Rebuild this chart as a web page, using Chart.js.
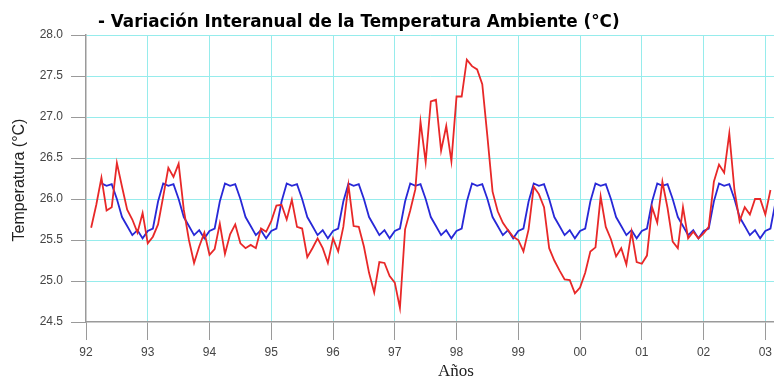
<!DOCTYPE html>
<html>
<head>
<meta charset="utf-8">
<script src="https://cdn.jsdelivr.net/npm/chart.js@4/dist/chart.umd.min.js"></script>
<style>
  html, body { margin: 0; padding: 0; background: #fff; }
</style>
</head>
<body>
<canvas id="chart" width="777" height="380"></canvas>
<script>
// Texts
const TITLE = "- Variación Interanual de la Temperatura Ambiente (°C)";
const Y_TITLE = "Temperatura (°C)";
const X_TITLE = "Años";

// x axis: years 1992..2003, monthly points
const firstYear = 1992;
const tickLabels = ["92", "93", "94", "95", "96", "97", "98", "99", "00", "01", "02", "03"];

// monthly temperature (red), month 1 = Jan 1992
const monthlyTemp = [
    25.65, 25.93, 26.26, 25.86, 25.90, 26.44, 26.15, 25.87, 25.75, 25.59, 25.83, 25.46,
    25.54, 25.69, 26.03, 26.38, 26.27, 26.43, 25.87, 25.50, 25.22, 25.42, 25.59, 25.32,
    25.39, 25.70, 25.33, 25.57, 25.69, 25.46, 25.40, 25.44, 25.40, 25.64, 25.60, 25.73,
    25.92, 25.93, 25.75, 25.99, 25.66, 25.64, 25.29, 25.40, 25.52, 25.40, 25.22, 25.52,
    25.36, 25.66, 26.17, 25.67, 25.66, 25.42, 25.10, 24.86, 25.23, 25.22, 25.06, 24.98,
    24.67, 25.63, 25.86, 26.12, 26.94, 26.45, 27.19, 27.21, 26.59, 26.89, 26.46, 27.25,
    27.25, 27.70, 27.62, 27.58, 27.40, 26.76, 26.09, 25.85, 25.71, 25.62, 25.54, 25.50,
    25.36, 25.63, 26.15, 26.06, 25.90, 25.40, 25.25, 25.13, 25.02, 25.01, 24.85, 24.92,
    25.10, 25.36, 25.41, 26.03, 25.66, 25.51, 25.30, 25.40, 25.20, 25.60, 25.23, 25.21,
    25.31, 25.90, 25.71, 26.21, 25.89, 25.48, 25.40, 25.90, 25.52, 25.60, 25.52, 25.58,
    25.66, 26.21, 26.42, 26.32, 26.80, 26.11, 25.73, 25.90, 25.81, 26.00, 26.00, 25.81,
    26.11
];

// average yearly cycle (blue), same months
const meanTemp = [
    null,  null,  26.19, 26.16, 26.18, 26.00, 25.78, 25.67, 25.56, 25.62, 25.52, 25.61,
    25.64, 25.97, 26.19, 26.16, 26.18, 26.00, 25.78, 25.67, 25.56, 25.62, 25.52, 25.61,
    25.64, 25.97, 26.19, 26.16, 26.18, 26.00, 25.78, 25.67, 25.56, 25.62, 25.52, 25.61,
    25.64, 25.97, 26.19, 26.16, 26.18, 26.00, 25.78, 25.67, 25.56, 25.62, 25.52, 25.61,
    25.64, 25.97, 26.19, 26.16, 26.18, 26.00, 25.78, 25.67, 25.56, 25.62, 25.52, 25.61,
    25.64, 25.97, 26.19, 26.16, 26.18, 26.00, 25.78, 25.67, 25.56, 25.62, 25.52, 25.61,
    25.64, 25.97, 26.19, 26.16, 26.18, 26.00, 25.78, 25.67, 25.56, 25.62, 25.52, 25.61,
    25.64, 25.97, 26.19, 26.16, 26.18, 26.00, 25.78, 25.67, 25.56, 25.62, 25.52, 25.61,
    25.64, 25.97, 26.19, 26.16, 26.18, 26.00, 25.78, 25.67, 25.56, 25.62, 25.52, 25.61,
    25.64, 25.97, 26.19, 26.16, 26.18, 26.00, 25.78, 25.67, 25.56, 25.62, 25.52, 25.61,
    25.64, 25.97, 26.19, 26.16, 26.18, 26.00, 25.78, 25.67, 25.56, 25.62, 25.52, 25.61,
    25.64, 25.97
];

// build {x, y} points, x in decimal years
function toPoints(values) {
    return values.map((v, i) => ({ x: firstYear + (i + 1) / 12, y: v }));
}

// Draw title and axis titles at fixed spots
const textPlugin = {
    id: "textos",
    afterDraw(chart) {
        const ctx = chart.ctx;
        ctx.save();

        // main title, fitted to the width in the picture
        ctx.fillStyle = "#000";
        ctx.textAlign = "left";
        ctx.textBaseline = "alphabetic";
        ctx.font = 'bold 16px "DejaVu Sans"';
        const w = ctx.measureText(TITLE).width;
        const size = 16 * 522 / w;
        ctx.font = `bold ${size.toFixed(2)}px "DejaVu Sans"`;
        ctx.fillText(TITLE, 98, 27);

        // x title
        ctx.fillStyle = "#222";
        ctx.textAlign = "center";
        ctx.font = '17px "Liberation Serif"';
        ctx.fillText(X_TITLE, 456, 376);

        // y title
        ctx.translate(20, 180);
        ctx.rotate(-Math.PI / 2);
        ctx.textBaseline = "middle";
        ctx.font = '16px "Liberation Sans"';
        ctx.fillText(Y_TITLE, 0, 0);

        ctx.restore();
    }
};

const gridColor = "rgb(150, 236, 236)";
const axisColor = "#9a9a9a";

const chartConfig = {
    type: "line",
    data: {
        datasets: [
            {
                label: "Temperatura mensual",
                data: toPoints(monthlyTemp),
                borderColor: "rgb(232, 40, 40)",
                borderWidth: 1.8,
                pointRadius: 0,
                tension: 0,
                spanGaps: false
            },
            {
                label: "Promedio",
                data: toPoints(meanTemp),
                borderColor: "rgb(40, 40, 215)",
                borderWidth: 1.8,
                pointRadius: 0,
                tension: 0,
                spanGaps: false
            }
        ]
    },
    options: {
        responsive: false,
        animation: false,
        layout: {
            padding: { top: 35, left: 0, right: 0, bottom: 0 }
        },
        plugins: {
            legend: { display: false },
            title: { display: false },
            tooltip: { enabled: false }
        },
        scales: {
            x: {
                type: "linear",
                min: 1992,
                max: 2003.14,
                afterFit: (scale) => { scale.height = 58; },
                grid: {
                    // no cyan line on top of the left axis
                    color: (c) => (c.tick && c.tick.value === firstYear ? "rgba(0,0,0,0)" : gridColor),
                    tickColor: axisColor,
                    tickLength: 18,
                    lineWidth: 1
                },
                border: { color: axisColor, width: 1.5 },
                ticks: {
                    stepSize: 1,
                    includeBounds: false,
                    autoSkip: false,
                    maxRotation: 0,
                    padding: 5,
                    color: "#444",
                    font: { family: "Liberation Sans", size: 12 },
                    callback: (value) => tickLabels[Math.round(value) - firstYear]
                }
            },
            y: {
                min: 24.5,
                max: 28,
                afterFit: (scale) => { scale.width = 86; },
                grid: {
                    color: (c) => (c.tick && c.tick.value === 24.5 ? "rgba(0,0,0,0)" : gridColor),
                    tickColor: axisColor,
                    tickLength: 15,
                    lineWidth: 1
                },
                border: { color: axisColor, width: 1.5 },
                ticks: {
                    stepSize: 0.5,
                    padding: 8,
                    color: "#444",
                    font: { family: "Liberation Sans", size: 12 },
                    callback: (value) => value.toFixed(1)
                }
            }
        }
    },
    plugins: [textPlugin]
};

window.tempChart = new Chart(document.getElementById("chart"), chartConfig);
</script>
</body>
</html>
